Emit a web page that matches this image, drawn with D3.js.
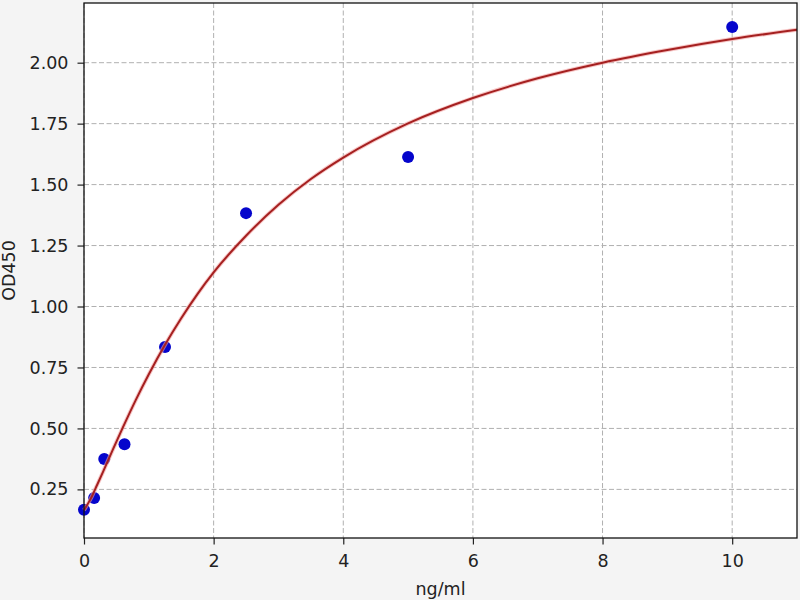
<!DOCTYPE html>
<html>
<head>
<meta charset="utf-8">
<script src="https://cdn.jsdelivr.net/npm/d3@7"></script>
<style>
  html, body { margin: 0; padding: 0; background: #f4f4f4; }
  svg { display: block; }
  text { font-family: "DejaVu Sans", sans-serif; fill: #222; }
</style>
</head>
<body>
<svg id="chart" width="800" height="600"></svg>
<script>
// Measured standards
const concentrations = [0, 0.156, 0.3125, 0.625, 1.25, 2.5, 5, 10];
const odValues = [0.166, 0.215, 0.375, 0.435, 0.834, 1.383, 1.613, 2.146];

// Fitted curve
const curveX = [0, 0.1, 0.2, 0.3, 0.45, 0.6, 0.8, 1.0, 1.25, 1.5, 1.75, 2.0, 2.5, 3.0, 3.5, 4.0, 5.0, 6.0, 7.0, 8.0, 9.0, 10.0, 11.0];
const curveY = [0.165, 0.210, 0.267, 0.326, 0.416, 0.504, 0.617, 0.722, 0.843, 0.952, 1.051, 1.140, 1.290, 1.417, 1.523, 1.611, 1.751, 1.855, 1.936, 2.000, 2.052, 2.097, 2.135];

const xTicks = [0, 2, 4, 6, 8, 10];
const yTicks = [0.25, 0.50, 0.75, 1.00, 1.25, 1.50, 1.75, 2.00];
const xLabel = "ng/ml";
const yLabel = "OD450";

const svg = d3.select("#chart");
const pLeft = 84, pRight = 797, pTop = 3, pBottom = 538;
const fontSize = "17.5px";

const x = d3.scaleLinear().domain([0, 11]).range([pLeft, pRight]);
const y = d3.scaleLinear().domain([0.0506, 2.2448]).range([pBottom, pTop]);

// plot background
svg.append("rect").attr("x", pLeft).attr("y", pTop)
  .attr("width", pRight - pLeft).attr("height", pBottom - pTop)
  .attr("fill", "#ffffff");

// grid
const grid = svg.append("g");
grid.selectAll("line.gx").data(xTicks).enter().append("line")
  .attr("x1", d => x(d)).attr("x2", d => x(d))
  .attr("y1", pTop).attr("y2", pBottom)
  .attr("stroke", "#b0b0b0").attr("stroke-width", 1)
  .attr("stroke-dasharray", "5,2.5");
grid.selectAll("line.gy").data(yTicks).enter().append("line")
  .attr("y1", d => y(d)).attr("y2", d => y(d))
  .attr("x1", pLeft).attr("x2", pRight)
  .attr("stroke", "#b0b0b0").attr("stroke-width", 1)
  .attr("stroke-dasharray", "5,2.5");

// axes
const xAxis = d3.axisBottom(x).tickValues(xTicks).tickFormat(d3.format("d")).tickSize(6.5).tickPadding(10);
const yAxis = d3.axisLeft(y).tickValues(yTicks).tickFormat(d3.format(".2f")).tickSize(6.5).tickPadding(9);

const gx = svg.append("g").attr("transform", `translate(0,${pBottom})`).call(xAxis);
const gy = svg.append("g").attr("transform", `translate(${pLeft},0)`).call(yAxis);
[gx, gy].forEach(g => {
  g.select(".domain").remove();
  g.selectAll("line").attr("stroke", "#222").attr("stroke-width", 1.2);
  g.selectAll("text").style("font-size", fontSize).style("font-family", "DejaVu Sans, sans-serif").attr("fill", "#222");
});

// points
svg.append("g").selectAll("circle").data(concentrations).enter().append("circle")
  .attr("cx", (d) => x(d)).attr("cy", (d, i) => y(odValues[i]))
  .attr("r", 6).attr("fill", "#0505cc");

// fitted curve
const line = d3.line().x(d => x(d[0])).y(d => y(d[1])).curve(d3.curveMonotoneX);
const curvePts = curveX.map((v, i) => [v, curveY[i]]);
svg.append("path").datum(curvePts)
  .attr("d", line).attr("fill", "none")
  .attr("stroke", "#f2a0a0").attr("stroke-width", 4).attr("opacity", 0.6);
svg.append("path").datum(curvePts)
  .attr("d", line).attr("fill", "none")
  .attr("stroke", "#a52020").attr("stroke-width", 2);

// frame
svg.append("rect").attr("x", pLeft).attr("y", pTop)
  .attr("width", pRight - pLeft).attr("height", pBottom - pTop)
  .attr("fill", "none").attr("stroke", "#111").attr("stroke-width", 1.3);

// labels
svg.append("text").attr("x", (pLeft + pRight) / 2).attr("y", 595)
  .attr("text-anchor", "middle").style("font-size", fontSize).text(xLabel);
svg.append("text").attr("transform", `translate(15,${(pTop + pBottom) / 2}) rotate(-90)`)
  .attr("text-anchor", "middle").style("font-size", fontSize).text(yLabel);
</script>
</body>
</html>
